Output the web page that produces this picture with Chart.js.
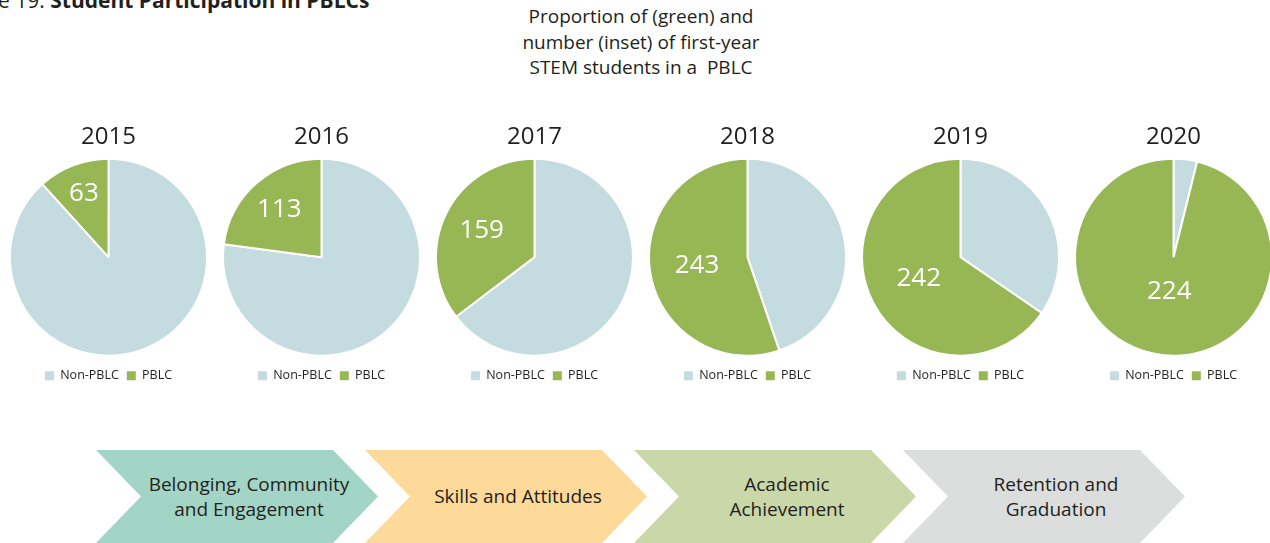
<!DOCTYPE html>
<html>
<head>
<meta charset="utf-8">
<script src="https://cdn.jsdelivr.net/npm/chart.js@4.4.1/dist/chart.umd.min.js"></script>
<style>
    body { margin: 0; width: 1270px; height: 543px; overflow: hidden; background: #fff; font-family: "Open Sans", sans-serif; color: #231f20; position: relative; }
    .fig-title { position: absolute; left: -2px; top: -10px; font-size: 21px; line-height: 21px; white-space: nowrap; }
    .fig-title b { font-weight: 700; }
    .subtitle { position: absolute; left: 441px; width: 400px; top: 4px; text-align: center; font-size: 19px; line-height: 25.5px; }
    .pie-box { position: absolute; top: 118px; width: 213px; height: 274px; }
    .chevron { position: absolute; top: 450px; width: 282px; height: 93px; display: flex; align-items: center; justify-content: center; box-sizing: border-box; padding-left: 24px; text-align: center; font-size: 19px; line-height: 25px;
        clip-path: polygon(0 0, 237px 0, 282px 50%, 237px 100%, 0 100%, 45px 50%); }
</style>
</head>
<body>
<div class="fig-title">e 19. <b>Student Participation in PBLCs</b></div>
<div class="subtitle">Proportion of (green) and<br>number (inset) of first-year<br>STEM students in a &nbsp;PBLC</div>
<div id="pies"></div>
<div id="steps"></div>

<script>
const years = ['2015', '2016', '2017', '2018', '2019', '2020'];
const seriesLabels = ['Non-PBLC', 'PBLC'];
const nonPblcCounts = [475, 380, 291, 197, 128, 9];
const pblcCounts = [63, 113, 159, 243, 242, 224];
const stepLabels = ['Belonging, Community<br>and Engagement', 'Skills and Attitudes', 'Academic<br>Achievement', 'Retention and<br>Graduation'];

const pieColors = ['#c4dcdf', '#97b755'];
const stepColors = ['#a3d5c7', '#fdd99a', '#cad7a9', '#dcdddd'];

// white count printed inside the PBLC slice
const insetLabel = {
    id: 'insetLabel',
    afterDatasetsDraw(chart) {
        const arc = chart.getDatasetMeta(0).data[1];
        const values = chart.data.datasets[0].data;
        const share = values[1] / (values[0] + values[1]);
        const mid = (arc.startAngle + arc.endAngle) / 2;
        const r = arc.outerRadius * (0.74 - 0.4 * share);
        const ctx = chart.ctx;
        ctx.save();
        ctx.fillStyle = '#fff';
        ctx.font = '26px "Open Sans"';
        ctx.textAlign = 'center';
        ctx.textBaseline = 'middle';
        ctx.fillText(String(values[1]), arc.x + Math.cos(mid) * r, arc.y + Math.sin(mid) * r);
        ctx.restore();
    }
};

const pies = document.getElementById('pies');
years.forEach((year, i) => {
    const box = document.createElement('div');
    box.className = 'pie-box';
    box.style.left = (2 + i * 213) + 'px';
    const canvas = document.createElement('canvas');
    box.appendChild(canvas);
    pies.appendChild(box);

    new Chart(canvas.getContext('2d'), {
        type: 'pie',
        data: {
            labels: seriesLabels,
            datasets: [{
                data: [nonPblcCounts[i], pblcCounts[i]],
                backgroundColor: pieColors,
                borderColor: '#fff',
                borderWidth: 2
            }]
        },
        options: {
            responsive: true,
            maintainAspectRatio: false,
            animation: false,
            layout: { padding: { left: 7, right: 7 } },
            plugins: {
                title: {
                    display: true,
                    text: year,
                    color: '#231f20',
                    font: { family: 'Open Sans', size: 24, weight: 'normal' },
                    padding: { top: 5, bottom: 1 }
                },
                legend: {
                    display: true,
                    position: 'bottom',
                    labels: {
                        boxWidth: 9,
                        boxHeight: 9,
                        padding: 8,
                        color: '#231f20',
                        font: { family: 'Open Sans', size: 12.5 },
                        generateLabels(chart) {
                            return Chart.overrides.pie.plugins.legend.labels.generateLabels(chart).map(item => {
                                item.strokeStyle = item.fillStyle;
                                item.lineWidth = 0;
                                return item;
                            });
                        }
                    }
                },
                tooltip: { enabled: false }
            }
        },
        plugins: [insetLabel]
    });
});

const steps = document.getElementById('steps');
stepLabels.forEach((label, i) => {
    const el = document.createElement('div');
    el.className = 'chevron';
    el.style.left = (96 + i * 269) + 'px';
    el.style.background = stepColors[i];
    el.innerHTML = label;
    steps.appendChild(el);
});
</script>
</body>
</html>
